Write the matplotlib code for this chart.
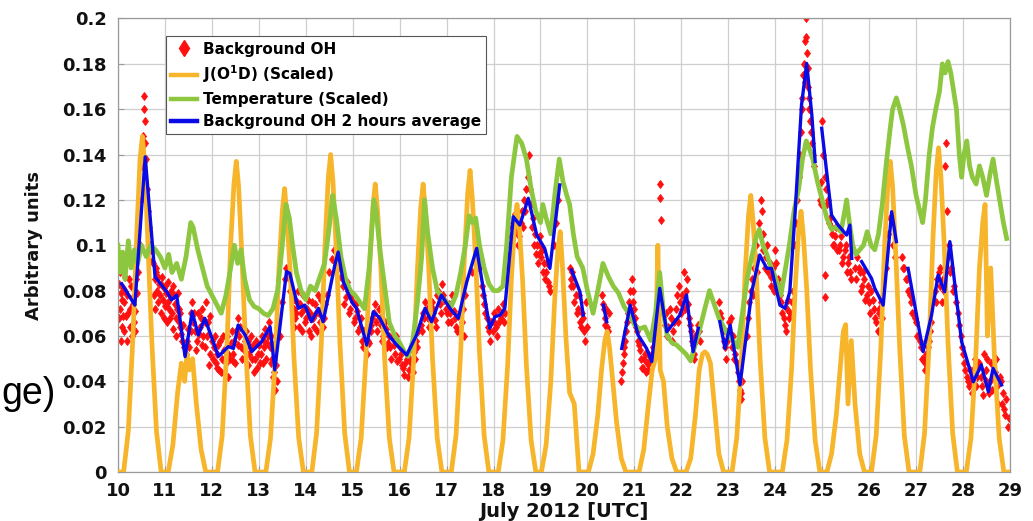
import numpy as np
import matplotlib
matplotlib.use("Agg")
import matplotlib.pyplot as plt
from matplotlib.lines import Line2D

# ---------------- data (July 2012, day of month in UTC) ----------------
# Background OH, individual measurements (first batch)
oh_t = [10.02, 10.04, 10.06, 10.08, 10.10, 10.12, 10.14, 10.17, 10.20, 10.23, 10.26, 10.29, 10.31, 10.34, 10.37, 10.40, 10.42,
        10.47, 10.50, 10.52, 10.54, 10.55, 10.56, 10.57, 10.58, 10.60, 10.62, 10.64, 10.66, 10.68, 10.70, 10.72,
        10.75, 10.78, 10.80, 10.83, 10.86, 10.89, 10.92, 10.95, 10.98, 11.00, 11.03, 11.06, 11.09, 11.12, 11.15, 11.18,
        11.21, 11.24, 11.27, 11.30, 11.33, 11.36, 11.40,
        11.45, 11.50, 11.55, 11.58, 11.60, 11.65, 11.68, 11.70, 11.75, 11.78, 11.80, 11.85, 11.88, 11.90, 11.93, 11.95, 12.00,
        12.05, 12.08, 12.12, 12.15, 12.18, 12.22, 12.25, 12.28, 12.32, 12.35, 12.40, 12.44, 12.48, 12.52, 12.55, 12.58,
        12.62, 12.66, 12.70, 12.74, 12.78, 12.82, 12.86, 12.90, 12.94, 12.98, 13.02, 13.06, 13.10, 13.14, 13.18, 13.22,
        13.25, 13.28, 13.31, 13.34, 13.36, 13.38,
        13.45, 13.50, 13.55, 13.58, 13.62, 13.66,
        13.70, 13.74, 13.78, 13.82, 13.86, 13.90, 13.94, 13.98, 14.02, 14.06, 14.10, 14.14, 14.18, 14.22, 14.26, 14.30,
        14.34, 14.38,
        14.45, 14.50, 14.55, 14.60, 14.64, 14.68, 14.72, 14.76,
        14.80, 14.85, 14.90, 14.95, 15.00, 15.05, 15.10, 15.15, 15.20, 15.25, 15.30, 15.35, 15.40, 15.45, 15.50, 15.55,
        15.60, 15.65, 15.70, 15.75, 15.80, 15.85, 15.90, 15.95, 16.00, 16.05, 16.10, 16.15, 16.20, 16.25, 16.30, 16.35, 16.40,
        16.45, 16.50, 16.55, 16.60, 16.65, 16.70, 16.75, 16.80, 16.85, 16.90, 16.95, 17.00, 17.05, 17.10, 17.15, 17.20,
        17.25, 17.30, 17.35, 17.40,
        17.55, 17.60, 17.65, 17.70,
        17.75, 17.80, 17.85, 17.90, 17.95, 18.00, 18.05, 18.10, 18.15, 18.20, 18.25,
        18.32, 18.36, 18.40, 18.45, 18.50, 18.55, 18.60, 18.65, 18.70, 18.73, 18.76, 18.80, 18.84, 18.88, 18.92, 18.96,
        19.00, 19.04, 19.08, 19.12, 19.16, 19.20,
        19.28, 19.33, 19.38,
        19.62, 19.66, 19.70, 19.75, 19.80, 19.84, 19.88, 19.92, 19.96,
        20.32, 20.35, 20.38, 20.42, 20.45,
        20.72, 20.75, 20.78, 20.82, 20.86, 20.90, 20.94, 20.98, 21.02, 21.06, 21.10, 21.14, 21.18, 21.22, 21.26, 21.30,
        21.35, 21.40,
        21.50, 21.54, 21.55, 21.56, 21.60,
        21.65, 21.70, 21.75, 21.80, 21.85, 21.90, 21.95, 22.00, 22.05, 22.10, 22.14, 22.18, 22.22, 22.26, 22.30, 22.35, 22.40,
        22.80, 22.85, 22.90, 22.95, 23.00, 23.05, 23.10, 23.15, 23.20, 23.25, 23.28, 23.30,
        23.40, 23.45, 23.50, 23.55, 23.60, 23.65, 23.70, 23.72, 23.75, 23.80, 23.85, 23.90, 23.95, 24.00, 24.05, 24.10,
        24.15, 24.20, 24.25, 24.30, 24.35,
        24.42, 24.47, 24.52, 24.56, 24.60, 24.63, 24.65, 24.67, 24.70, 24.73, 24.76, 24.80,
        24.95, 24.97, 24.98, 25.00, 25.02, 25.05, 25.06, 25.07, 25.08, 25.12, 25.16, 25.20, 25.25, 25.30, 25.35, 25.40,
        25.45, 25.50, 25.55, 25.60,
        25.70, 25.75, 25.80, 25.85, 25.90, 25.95, 26.00, 26.05, 26.10, 26.15, 26.20, 26.25,
        26.35, 26.40, 26.45, 26.50, 26.55,
        26.70, 26.75, 26.80, 26.85, 26.90, 26.95, 27.00, 27.05, 27.10, 27.15, 27.20, 27.25, 27.30,
        27.40, 27.45, 27.50, 27.55, 27.60, 27.62, 27.63, 27.65, 27.70, 27.75, 27.80,
        27.90, 27.95, 28.00, 28.05, 28.10, 28.15, 28.20, 28.25, 28.30, 28.35, 28.40, 28.45, 28.50, 28.55, 28.60, 28.65,
        28.70, 28.75, 28.80, 28.85, 28.90, 28.95]
oh_v = [0.083, 0.072, 0.079, 0.064, 0.081, 0.075, 0.086, 0.069, 0.078, 0.085, 0.072, 0.060, 0.077, 0.066, 0.071, 0.079, 0.088,
        0.100, 0.120, 0.135, 0.148, 0.160, 0.166, 0.155, 0.145, 0.138, 0.125, 0.115, 0.108, 0.100, 0.098, 0.093,
        0.092, 0.085, 0.088, 0.080, 0.086, 0.078, 0.083, 0.076, 0.081, 0.073, 0.079, 0.084, 0.072, 0.077, 0.070, 0.082,
        0.074, 0.068, 0.079, 0.072, 0.064, 0.058, 0.055,
        0.052, 0.063, 0.070, 0.075, 0.066, 0.062, 0.058, 0.070, 0.064, 0.056, 0.072, 0.066, 0.075, 0.060, 0.047, 0.069, 0.058,
        0.055, 0.048, 0.052, 0.045, 0.058, 0.050, 0.054, 0.043, 0.060, 0.052, 0.057, 0.049, 0.058, 0.062, 0.068, 0.060,
        0.055, 0.063, 0.058, 0.052, 0.047, 0.055, 0.050, 0.044, 0.058, 0.052, 0.048, 0.060, 0.055, 0.063, 0.057, 0.066,
        0.060, 0.050, 0.042, 0.036, 0.047, 0.040,
        0.060, 0.075, 0.085, 0.090, 0.086, 0.080,
        0.080, 0.072, 0.068, 0.075, 0.064, 0.070, 0.078, 0.066, 0.072, 0.062, 0.069, 0.075, 0.064, 0.070, 0.078, 0.066,
        0.072, 0.068,
        0.078, 0.088, 0.094, 0.098, 0.092, 0.100, 0.090, 0.086,
        0.082, 0.077, 0.080, 0.072, 0.075, 0.068, 0.071, 0.064, 0.058, 0.062, 0.052, 0.057, 0.065, 0.070, 0.066, 0.072,
        0.065, 0.060, 0.063, 0.057, 0.055, 0.060, 0.052, 0.049, 0.055, 0.047, 0.043, 0.050, 0.045, 0.048, 0.053, 0.058, 0.062,
        0.065, 0.070, 0.075, 0.068, 0.064, 0.072, 0.067, 0.078, 0.074, 0.083, 0.076, 0.070, 0.074, 0.066, 0.071, 0.064,
        0.069, 0.061, 0.072, 0.078,
        0.088, 0.094, 0.098, 0.090,
        0.082, 0.074, 0.068, 0.062, 0.066, 0.070, 0.064, 0.072, 0.068, 0.074, 0.070,
        0.090, 0.100, 0.108, 0.114, 0.110, 0.104, 0.115, 0.120, 0.125, 0.130, 0.140, 0.118, 0.112, 0.105, 0.100, 0.096,
        0.104, 0.098, 0.092, 0.088, 0.084, 0.080,
        0.100, 0.110, 0.120,
        0.090, 0.085, 0.082, 0.078, 0.072, 0.066, 0.070, 0.062, 0.075,
        0.078, 0.072, 0.068, 0.064, 0.070,
        0.040, 0.048, 0.055, 0.062, 0.070, 0.080, 0.085, 0.075, 0.068, 0.062, 0.056, 0.050, 0.046, 0.052, 0.048, 0.045,
        0.050, 0.055,
        0.085, 0.127, 0.121, 0.111, 0.070,
        0.065, 0.060, 0.072, 0.058, 0.066, 0.078, 0.082, 0.070, 0.088, 0.080, 0.074, 0.065, 0.058, 0.052, 0.060, 0.065, 0.058,
        0.075, 0.068, 0.058, 0.050, 0.062, 0.068, 0.060, 0.052, 0.044, 0.036, 0.032, 0.040,
        0.060, 0.075, 0.085, 0.090, 0.100, 0.110, 0.120, 0.115, 0.105, 0.095, 0.088, 0.082, 0.090, 0.098, 0.085, 0.078,
        0.070, 0.065, 0.072, 0.068, 0.075,
        0.100, 0.120, 0.140, 0.160, 0.175, 0.190, 0.200, 0.185, 0.170, 0.160, 0.150, 0.140,
        0.120, 0.128, 0.118, 0.155, 0.140, 0.130, 0.087, 0.077, 0.125, 0.120, 0.112, 0.105, 0.100, 0.108, 0.098, 0.104,
        0.095, 0.100, 0.092, 0.088,
        0.090, 0.095, 0.088, 0.082, 0.085, 0.078, 0.075, 0.080, 0.072, 0.066, 0.070, 0.075,
        0.090, 0.105, 0.112, 0.100, 0.095,
        0.095, 0.090, 0.085, 0.080, 0.075, 0.070, 0.066, 0.060, 0.055, 0.050, 0.045, 0.055, 0.062,
        0.080, 0.085, 0.090, 0.075, 0.080, 0.135, 0.145, 0.115, 0.100, 0.090, 0.082,
        0.070, 0.060, 0.052, 0.045, 0.040, 0.045, 0.035, 0.050, 0.042, 0.048, 0.038, 0.052, 0.045, 0.035, 0.048, 0.042,
        0.050, 0.030, 0.040, 0.035, 0.025, 0.020]

# Background OH, individual measurements (second batch)
oh2_t = [10.03, 10.05, 10.07, 10.09, 10.11, 10.13, 10.16, 10.19, 10.22, 10.25, 10.28, 10.33, 10.36, 10.39,
         10.76, 10.79, 10.82, 10.85, 10.88, 10.91, 10.94, 10.97, 11.01, 11.04, 11.07, 11.11, 11.14, 11.17, 11.20,
         11.23, 11.26, 11.29, 11.32, 11.35, 11.38,
         11.47, 11.52, 11.56, 11.62, 11.66, 11.72, 11.77, 11.82, 11.86, 11.91, 11.97,
         12.02, 12.06, 12.10, 12.14, 12.20, 12.24, 12.30, 12.34, 12.38, 12.42, 12.46, 12.50, 12.56, 12.60, 12.64,
         12.68, 12.72, 12.76, 12.80, 12.84, 12.88, 12.92, 12.96, 13.00, 13.04, 13.08, 13.12, 13.16, 13.20, 13.24,
         13.27, 13.30, 13.33,
         13.72, 13.76, 13.80, 13.84, 13.88, 13.92, 13.96, 14.00, 14.04, 14.08, 14.12, 14.16, 14.20, 14.24, 14.28,
         14.32, 14.36, 14.40,
         14.82, 14.88, 14.92, 14.98, 15.02, 15.08, 15.12, 15.18, 15.22, 15.28, 15.32, 15.38, 15.42, 15.48, 15.52, 15.58,
         15.62, 15.68, 15.72, 15.78, 15.82, 15.88, 15.92, 15.98, 16.02, 16.08, 16.12, 16.18, 16.22, 16.28, 16.32, 16.38,
         16.48, 16.52, 16.58, 16.62, 16.68, 16.72, 16.78, 16.82, 16.88, 16.92, 16.98, 17.02, 17.08, 17.12, 17.18,
         17.22, 17.28, 17.32, 17.38,
         17.78, 17.82, 17.88, 17.92, 17.98, 18.02, 18.08, 18.12, 18.18, 18.22,
         18.34, 18.38, 18.42, 18.47, 18.52, 18.58, 18.62, 18.68, 18.78, 18.82, 18.86, 18.90, 18.94, 18.98, 19.02,
         19.06, 19.10, 19.14, 19.18,
         19.64, 19.68, 19.72, 19.78, 19.82, 19.86, 19.90, 19.94, 19.98,
         20.33, 20.37, 20.40, 20.44,
         20.74, 20.77, 20.80, 20.84, 20.88, 20.92, 20.96, 21.00, 21.04, 21.08, 21.12, 21.16, 21.20, 21.24, 21.28,
         21.32, 21.38,
         21.68, 21.72, 21.78, 21.82, 21.88, 21.92, 21.98, 22.02, 22.08, 22.12, 22.16, 22.20, 22.24, 22.28, 22.32, 22.38,
         22.82, 22.88, 22.92, 22.98, 23.02, 23.08, 23.12, 23.18, 23.22, 23.27,
         23.42, 23.48, 23.52, 23.58, 23.62, 23.68, 23.74, 23.78, 23.82, 23.88, 23.92, 23.98, 24.02, 24.08, 24.12,
         24.18, 24.22, 24.28, 24.32, 24.38,
         24.44, 24.50, 24.54, 24.58, 24.62, 24.64, 24.66, 24.69, 24.72, 24.75, 24.78, 24.82,
         25.10, 25.14, 25.18, 25.22, 25.28, 25.32, 25.38, 25.42, 25.48, 25.52, 25.58, 25.62,
         25.72, 25.78, 25.82, 25.88, 25.92, 25.98, 26.02, 26.08, 26.12, 26.18, 26.22, 26.28,
         26.72, 26.78, 26.82, 26.88, 26.92, 26.98, 27.02, 27.08, 27.12, 27.18, 27.22, 27.28, 27.32,
         27.42, 27.48, 27.52, 27.58, 27.68, 27.72, 27.78, 27.84,
         27.92, 27.98, 28.02, 28.08, 28.12, 28.18, 28.22, 28.28, 28.32, 28.38, 28.42, 28.48, 28.52, 28.58, 28.62,
         28.68, 28.72, 28.78, 28.82, 28.88, 28.92, 28.97]
oh2_v = [0.068, 0.088, 0.058, 0.076, 0.069, 0.062, 0.080, 0.058, 0.070, 0.064, 0.082, 0.074, 0.062, 0.085,
         0.078, 0.072, 0.090, 0.075, 0.083, 0.070, 0.086, 0.068, 0.082, 0.066, 0.075, 0.068, 0.080, 0.063, 0.078,
         0.060, 0.072, 0.066, 0.070, 0.061, 0.065,
         0.058, 0.055, 0.062, 0.070, 0.054, 0.061, 0.068, 0.060, 0.055, 0.066, 0.052,
         0.050, 0.060, 0.046, 0.056, 0.044, 0.060, 0.048, 0.042, 0.050, 0.062, 0.052, 0.048, 0.056, 0.064, 0.050,
         0.054, 0.062, 0.058, 0.052, 0.060, 0.056, 0.050, 0.046, 0.056, 0.052, 0.048, 0.058, 0.050, 0.060, 0.055,
         0.048, 0.056, 0.044,
         0.076, 0.064, 0.070, 0.080, 0.074, 0.062, 0.072, 0.068, 0.076, 0.070, 0.060, 0.068, 0.074, 0.062, 0.070,
         0.076, 0.064, 0.074,
         0.074, 0.084, 0.070, 0.078, 0.066, 0.074, 0.062, 0.068, 0.055, 0.060, 0.058, 0.062, 0.068, 0.074, 0.062, 0.068,
         0.058, 0.066, 0.055, 0.060, 0.050, 0.056, 0.060, 0.050, 0.052, 0.046, 0.048, 0.042, 0.050, 0.044, 0.050, 0.055,
         0.062, 0.068, 0.072, 0.064, 0.075, 0.070, 0.064, 0.080, 0.070, 0.078, 0.072, 0.066, 0.070, 0.078, 0.068,
         0.062, 0.070, 0.066, 0.060,
         0.078, 0.070, 0.064, 0.058, 0.062, 0.066, 0.060, 0.066, 0.070, 0.066,
         0.096, 0.104, 0.110, 0.106, 0.100, 0.110, 0.108, 0.115, 0.125, 0.108, 0.100, 0.096, 0.092, 0.100, 0.095,
         0.088, 0.085, 0.092, 0.082,
         0.082, 0.088, 0.075, 0.070, 0.078, 0.064, 0.068, 0.058, 0.064,
         0.074, 0.065, 0.072, 0.062,
         0.044, 0.052, 0.058, 0.066, 0.075, 0.070, 0.080, 0.072, 0.064, 0.058, 0.054, 0.046, 0.050, 0.044, 0.052,
         0.048, 0.052,
         0.070, 0.064, 0.068, 0.062, 0.072, 0.066, 0.075, 0.078, 0.072, 0.085, 0.068, 0.062, 0.056, 0.050, 0.058, 0.062,
         0.070, 0.062, 0.055, 0.058, 0.066, 0.055, 0.050, 0.048, 0.040, 0.035,
         0.068, 0.080, 0.078, 0.095, 0.088, 0.105, 0.098, 0.090, 0.100, 0.092, 0.086, 0.080, 0.092, 0.082, 0.075,
         0.068, 0.062, 0.076, 0.070, 0.080,
         0.110, 0.130, 0.150, 0.165, 0.180, 0.172, 0.192, 0.178, 0.165, 0.155, 0.145, 0.135,
         0.118, 0.110, 0.108, 0.100, 0.104, 0.098, 0.100, 0.092, 0.098, 0.088, 0.095, 0.085,
         0.085, 0.090, 0.080, 0.088, 0.076, 0.082, 0.070, 0.076, 0.068, 0.062, 0.072, 0.068,
         0.090, 0.085, 0.080, 0.078, 0.070, 0.068, 0.060, 0.058, 0.050, 0.048, 0.052, 0.058, 0.066,
         0.075, 0.088, 0.082, 0.085, 0.095, 0.088, 0.080, 0.075,
         0.065, 0.055, 0.048, 0.042, 0.038, 0.040, 0.045, 0.038, 0.046, 0.042, 0.034, 0.040, 0.050, 0.040, 0.036,
         0.044, 0.038, 0.042, 0.030, 0.028, 0.032, 0.024]

# Background OH, 2 hours average (NaN marks gaps in the record)
nan = np.nan
avg_t = [10.08, 10.36, 10.58, 10.79, 11.04, 11.14, 11.25, 11.43, 11.58, 11.71, 11.85, 12.14, 12.35, 12.46, 12.56,
         12.71, 12.85, 13.06, 13.24, 13.34, 13.59, 13.66, 13.84, 13.98, 14.12, 14.27, 14.37, 14.62, 14.69, 14.80,
         14.98, 15.08, 15.30, 15.44, 15.58, 15.76, 15.94, 16.15, 16.36, 16.54, 16.68, 16.89, 17.07, 17.25, 17.43,
         17.64, 17.92, 18.03, 18.14, 18.24, 18.42, 18.56, 18.74, 18.92, 19.09, 19.20, 19.41, nan,
         19.66, 19.84, 19.91, nan, 20.34, 20.41, nan,
         20.73, 20.91, 21.08, 21.26, 21.37, 21.54, 21.69, 21.86, 21.97, 22.11, 22.25, 22.36, nan,
         22.82, 22.93, 23.04, 23.25, 23.50, 23.67, 23.82, 23.92, 24.10, 24.21, 24.31, 24.42, 24.56, 24.67, 24.78,
         24.85, nan, 24.99, 25.20, 25.34, 25.52, 25.59, 25.63, nan,
         25.84, 26.05, 26.12, 26.30, 26.48, 26.58, nan,
         26.83, 27.15, 27.33, 27.47, 27.61, 27.72, 27.86, 27.97, 28.22, 28.39, 28.54, 28.64, 28.82]
avg_v = [0.0830, 0.0736, 0.1390, 0.0861, 0.0795, 0.0759, 0.0780, 0.0509, 0.0707, 0.0604, 0.0678, 0.0510, 0.0553,
         0.0545, 0.0648, 0.0604, 0.0531, 0.0575, 0.0641, 0.0450, 0.0884, 0.0876, 0.0722, 0.0736, 0.0663, 0.0722,
         0.0663, 0.0913, 0.0970, 0.0839, 0.0751, 0.0722, 0.0560, 0.0707, 0.0678, 0.0604, 0.0560, 0.0516, 0.0604,
         0.0722, 0.0663, 0.0780, 0.0722, 0.0678, 0.0839, 0.0986, 0.0634, 0.0685, 0.0692, 0.0722, 0.1126, 0.1089,
         0.1207, 0.1045, 0.0986, 0.0898, 0.1266, nan,
         0.0891, 0.0795, 0.0692, nan, 0.0736, 0.0663, nan,
         0.0545, 0.0736, 0.0604, 0.0545, 0.0487, 0.0810, 0.0619, 0.0663, 0.0692, 0.0781, 0.0531, 0.0634, nan,
         0.0663, 0.0545, 0.0648, 0.0384, 0.0795, 0.0957, 0.0898, 0.0898, 0.0736, 0.0722, 0.0795, 0.1133, 0.1619,
         0.1802, 0.1574, 0.1369, nan, 0.1516, 0.1133, 0.1089, 0.1045, 0.1089, 0.0942, nan,
         0.0928, 0.0854, 0.0810, 0.0736, 0.1148, 0.1016, nan,
         0.0898, 0.0531, 0.0692, 0.0869, 0.0795, 0.1016, 0.0766, 0.0575, 0.0398, 0.0472, 0.0354, 0.0457, 0.0384]

# Temperature (scaled)
temp_t = [10.00, 10.05, 10.10, 10.15, 10.22, 10.28, 10.35, 10.42, 10.50, 10.60, 10.70, 10.80, 10.90, 11.00, 11.08,
          11.15, 11.25, 11.35, 11.45, 11.55, 11.60, 11.70, 11.80, 11.90, 12.00, 12.10, 12.20, 12.30, 12.40, 12.48,
          12.55, 12.62, 12.70, 12.80, 12.90, 13.00, 13.10, 13.20, 13.30, 13.40, 13.50, 13.58, 13.65, 13.72, 13.80,
          13.90, 14.00, 14.10, 14.20, 14.30, 14.40, 14.50, 14.57, 14.65, 14.75, 14.85, 14.95, 15.05, 15.15, 15.25,
          15.35, 15.45, 15.50, 15.58, 15.68, 15.78, 15.90, 16.00, 16.10, 16.18, 16.28, 16.38, 16.47, 16.53, 16.60,
          16.70, 16.80, 16.90, 17.00, 17.10, 17.20, 17.30, 17.40, 17.48, 17.55, 17.62, 17.70, 17.80, 17.90, 18.00,
          18.10, 18.20, 18.28, 18.38, 18.50, 18.60, 18.70, 18.80, 18.90, 19.00, 19.05, 19.12, 19.22, 19.32, 19.40,
          19.48, 19.56, 19.62, 19.70, 19.78, 19.90, 20.00, 20.12, 20.22, 20.33, 20.45, 20.55, 20.66, 20.78, 20.88,
          21.00, 21.10, 21.22, 21.35, 21.45, 21.54, 21.62, 21.70, 21.80, 21.90, 22.00, 22.10, 22.20, 22.28, 22.38,
          22.50, 22.60, 22.70, 22.80, 22.90, 23.00, 23.10, 23.20, 23.30, 23.40, 23.50, 23.60, 23.66, 23.74, 23.82,
          23.92, 24.02, 24.12, 24.22, 24.30, 24.40, 24.50, 24.58, 24.66, 24.72, 24.80, 24.90, 25.00, 25.10, 25.20,
          25.30, 25.40, 25.48, 25.52, 25.58, 25.65, 25.72, 25.80, 25.88, 25.96, 26.04, 26.12, 26.20, 26.28, 26.36,
          26.44, 26.50, 26.58, 26.65, 26.73, 26.82, 26.90, 27.00, 27.08, 27.14, 27.20, 27.28, 27.35, 27.42, 27.50,
          27.56, 27.62, 27.68, 27.74, 27.80, 27.86, 27.92, 27.97, 28.02, 28.08, 28.14, 28.20, 28.28, 28.35, 28.42,
          28.50, 28.58, 28.64, 28.70, 28.78, 28.86, 28.93]
temp_v = [0.100, 0.088, 0.097, 0.085, 0.102, 0.090, 0.098, 0.092, 0.100, 0.095, 0.100, 0.098, 0.095, 0.090, 0.096,
          0.088, 0.092, 0.085, 0.095, 0.110, 0.108, 0.098, 0.090, 0.082, 0.078, 0.074, 0.070, 0.078, 0.090, 0.100,
          0.092, 0.098, 0.085, 0.076, 0.073, 0.072, 0.070, 0.069, 0.072, 0.080, 0.100, 0.118, 0.112, 0.100, 0.088,
          0.080, 0.076, 0.082, 0.080, 0.086, 0.092, 0.108, 0.122, 0.112, 0.095, 0.085, 0.080, 0.078, 0.075, 0.072,
          0.090, 0.120, 0.115, 0.098, 0.082, 0.066, 0.060, 0.057, 0.053, 0.051, 0.058, 0.075, 0.095, 0.120, 0.105,
          0.090, 0.080, 0.077, 0.075, 0.073, 0.078, 0.088, 0.100, 0.113, 0.110, 0.112, 0.100, 0.090, 0.083, 0.080,
          0.080, 0.082, 0.100, 0.130, 0.148, 0.145, 0.138, 0.125, 0.115, 0.110, 0.118, 0.112, 0.105, 0.125, 0.138,
          0.128, 0.122, 0.118, 0.105, 0.095, 0.090, 0.080, 0.070, 0.080, 0.092, 0.086, 0.082, 0.079, 0.073, 0.070,
          0.065, 0.063, 0.064, 0.058, 0.070, 0.088, 0.070, 0.060, 0.057, 0.056, 0.054, 0.052, 0.049, 0.055, 0.062,
          0.072, 0.080, 0.074, 0.068, 0.064, 0.060, 0.058, 0.055, 0.070, 0.085, 0.095, 0.104, 0.107, 0.100, 0.096,
          0.090, 0.085, 0.078, 0.090, 0.100, 0.115, 0.125, 0.138, 0.146, 0.143, 0.138, 0.128, 0.120, 0.112, 0.107,
          0.108, 0.106, 0.115, 0.120, 0.110, 0.100, 0.096, 0.098, 0.100, 0.106, 0.100, 0.098, 0.105, 0.118, 0.135,
          0.150, 0.160, 0.165, 0.160, 0.153, 0.143, 0.135, 0.122, 0.115, 0.110, 0.120, 0.140, 0.152, 0.160, 0.168,
          0.180, 0.176, 0.181, 0.176, 0.168, 0.160, 0.140, 0.130, 0.140, 0.146, 0.135, 0.130, 0.127, 0.135, 0.130,
          0.122, 0.132, 0.138, 0.130, 0.120, 0.110, 0.103]

# J(O1D) (scaled): time of the daily maximum and the values around it
jo1d_peak_t = [10.52, 11.47, 12.52, 13.55, 14.53, 15.48, 16.50, 17.50, 18.50, 19.42, 20.42, 21.50, 22.50, 23.48,
               24.55, 25.50, 26.45, 27.48, 28.47]
jo1d_offsets = [-0.40, -0.30, -0.20, -0.12, -0.05, 0.0, 0.05, 0.12, 0.20, 0.30, 0.40]
jo1d_daily = [
    [0, 0.018, 0.060, 0.105, 0.138, 0.148, 0.136, 0.100, 0.058, 0.018, 0],
    [0, 0.012, 0.035, 0.048, 0.040, 0.052, 0.045, 0.050, 0.030, 0.010, 0],
    [0, 0.016, 0.055, 0.100, 0.127, 0.137, 0.126, 0.095, 0.055, 0.016, 0],
    [0, 0.015, 0.050, 0.090, 0.115, 0.125, 0.112, 0.088, 0.050, 0.015, 0],
    [0, 0.017, 0.056, 0.100, 0.130, 0.140, 0.128, 0.098, 0.056, 0.017, 0],
    [0, 0.015, 0.050, 0.090, 0.117, 0.127, 0.115, 0.090, 0.050, 0.015, 0],
    [0, 0.015, 0.050, 0.090, 0.117, 0.127, 0.115, 0.090, 0.050, 0.015, 0],
    [0, 0.016, 0.053, 0.095, 0.123, 0.133, 0.120, 0.093, 0.053, 0.016, 0],
    [0, 0.014, 0.047, 0.085, 0.110, 0.118, 0.108, 0.084, 0.047, 0.014, 0],
    [0, 0.012, 0.040, 0.075, 0.098, 0.106, 0.090, 0.060, 0.035, 0.030, 0],
    [0, 0.008, 0.025, 0.045, 0.058, 0.062, 0.055, 0.040, 0.022, 0.006, 0],
    [0, 0.010, 0.030, 0.045, 0.050, 0.100, 0.045, 0.040, 0.020, 0.006, 0],
    [0, 0.006, 0.025, 0.045, 0.052, 0.053, 0.052, 0.048, 0.030, 0.008, 0],
    [0, 0.015, 0.049, 0.088, 0.113, 0.122, 0.110, 0.086, 0.049, 0.015, 0],
    [0, 0.014, 0.046, 0.083, 0.107, 0.115, 0.104, 0.081, 0.046, 0.014, 0],
    [0, 0.008, 0.025, 0.045, 0.062, 0.065, 0.030, 0.058, 0.030, 0.008, 0],
    [0, 0.016, 0.055, 0.100, 0.127, 0.137, 0.126, 0.095, 0.055, 0.016, 0],
    [0, 0.017, 0.057, 0.103, 0.133, 0.143, 0.130, 0.100, 0.057, 0.017, 0],
    [0, 0.015, 0.050, 0.090, 0.110, 0.118, 0.060, 0.090, 0.050, 0.015, 0],
]

x_ticks = list(range(10, 30))
y_ticks = [0, 0.02, 0.04, 0.06, 0.08, 0.1, 0.12, 0.14, 0.16, 0.18, 0.2]
y_tick_labels = ["0", "0.02", "0.04", "0.06", "0.08", "0.1", "0.12", "0.14", "0.16", "0.18", "0.2"]

# ---------------- colours ----------------
RED = "#ff1010"
ORANGE = "#f7b52c"
GREEN = "#8dc63f"
BLUE = "#0a0ae6"

# J(O1D) curve assembled day by day, flat at zero during the night
jo1d_t = [10.0]
jo1d_v = [0.0]
for peak, row in zip(jo1d_peak_t, jo1d_daily):
    jo1d_t.extend(peak + off for off in jo1d_offsets)
    jo1d_v.extend(row)
jo1d_t.append(29.0)
jo1d_v.append(0.0)

plt.rcParams["font.family"] = ["DejaVu Sans"]
plt.rcParams["font.weight"] = "bold"

fig = plt.figure(figsize=(10.33, 5.21), dpi=100)
ax = fig.add_axes([0.1142, 0.094, 0.8635, 0.8705])

ax.plot(oh_t + oh2_t, oh_v + oh2_v, linestyle="none", marker="d", markersize=4.4,
        color=RED, markeredgewidth=0.6, zorder=2)
ax.plot(jo1d_t, jo1d_v, color=ORANGE, lw=3.4, solid_joinstyle="round", zorder=3)
ax.plot(temp_t, temp_v, color=GREEN, lw=3.4, solid_joinstyle="round", zorder=4)
ax.plot(avg_t, avg_v, color=BLUE, lw=2.4, solid_joinstyle="round", zorder=5)

ax.set_xlim(10, 29)
ax.set_ylim(0, 0.2)
ax.set_xticks(x_ticks)
ax.set_xticklabels([str(d) for d in x_ticks])
ax.set_yticks(y_ticks)
ax.set_yticklabels(y_tick_labels)
ax.grid(True, color="#cfcfcf", lw=0.9)
ax.set_axisbelow(True)
for side in ("left", "right", "top", "bottom"):
    ax.spines[side].set_color("#9a9a9a")
    ax.spines[side].set_linewidth(0.9)
ax.tick_params(direction="in", length=4, color="#9a9a9a", labelsize=13)
ax.tick_params(axis="x", pad=7)
ax.tick_params(axis="y", pad=8)
for lab in ax.get_xticklabels() + ax.get_yticklabels():
    lab.set_fontweight("bold")
    lab.set_color("#111111")

ax.set_xlabel("July 2012 [UTC]", fontsize=14, fontweight="bold", color="#111111")
ax.xaxis.set_label_coords(0.5, -0.066)
ax.set_ylabel("Arbitrary units", fontsize=13, fontweight="bold", color="#111111")
ax.yaxis.set_label_coords(-0.084, 0.5)

handles = [
    Line2D([], [], linestyle="none", marker="d", markersize=8, color=RED),
    Line2D([], [], color=ORANGE, lw=3.2),
    Line2D([], [], color=GREEN, lw=3.2),
    Line2D([], [], color=BLUE, lw=3.2),
]
labels = ["Background OH", r"J(O$^{\mathbf{1}}$D) (Scaled)", "Temperature (Scaled)",
          "Background OH 2 hours average"]
leg = ax.legend(handles, labels, loc="upper left", bbox_to_anchor=(0.054, 0.961),
                borderaxespad=0, handlelength=1.7, handletextpad=0.35,
                labelspacing=0.45, borderpad=0.35, fancybox=False, framealpha=1,
                edgecolor="#555555", prop={"weight": "bold", "size": 11})
leg.get_frame().set_linewidth(0.8)
leg.set_zorder(10)

# fragment of surrounding slide text at the left edge
fig.text(1 / 1033, 0.2246, "ge)", ha="left", va="baseline", fontsize=27,
         family="Liberation Sans", fontweight="normal", color="black")

fig.savefig("out.png", dpi=100)
